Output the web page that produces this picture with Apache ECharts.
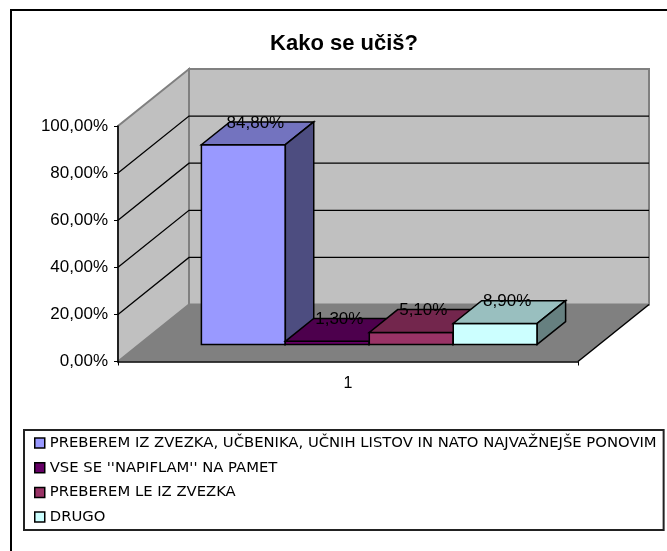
<!DOCTYPE html>
<html lang="sl">
<head>
    <meta charset="UTF-8">
    <title>Kako se učiš?</title>
    <script src="https://cdn.jsdelivr.net/npm/echarts@6/dist/echarts.min.js"></script>
    <style>
        html, body { margin: 0; padding: 0; background: #fff; }
        #chart { width: 667px; height: 551px; }
    </style>
</head>
<body>
<div id="chart"></div>
<script>
    const categories = ['1'];
    const seriesNames = [
        'PREBEREM IZ ZVEZKA, UČBENIKA, UČNIH LISTOV IN NATO NAJVAŽNEJŠE PONOVIM',
        "VSE SE ''NAPIFLAM'' NA PAMET",
        'PREBEREM LE IZ ZVEZKA',
        'DRUGO'
    ];
    const seriesValues = [84.8, 1.3, 5.1, 8.9];
    const valueLabels = ['84,80%', '1,30%', '5,10%', '8,90%'];
    const yTicks = [0, 20, 40, 60, 80, 100];
    const yTickLabels = ['0,00%', '20,00%', '40,00%', '60,00%', '80,00%', '100,00%'];

    const frontColors = ['#9999ff', '#660066', '#993366', '#ccffff'];
    const topColors = ['#7373bf', '#4d004d', '#73264d', '#99bfbf'];
    const sideColors = ['#4d4d80', '#330033', '#4d1a33', '#668080'];

    // depth of the box, as screen offset of the back wall
    const DEPTH_X = 71, DEPTH_Y = 57;

    function project(api, u, v, d) {
        let band = api.size([1, 0])[0];
        let c = api.coord([0, v]);
        return [c[0] - band / 2 + u * band + d * DEPTH_X, c[1] - d * DEPTH_Y];
    }

    function face(points, fill, stroke, width) {
        return {
            type: 'polygon',
            shape: {points: points},
            style: {fill: fill, stroke: stroke, lineWidth: width, lineJoin: 'miter'}
        };
    }

    function renderWalls(params, api) {
        let max = yTicks[yTicks.length - 1];
        let p = (u, v, d) => project(api, u, v, d);
        return {
            type: 'group',
            children: [
                face([p(0, 0, 0), p(1, 0, 0), p(1, 0, 1), p(0, 0, 1)], '#808080', null, 0),
                face([p(0, 0, 1), p(1, 0, 1), p(1, max, 1), p(0, max, 1)], '#c0c0c0', '#808080', 2),
                face([p(0, 0, 0), p(0, 0, 1), p(0, max, 1), p(0, max, 0)], '#c0c0c0', '#808080', 2),
                {type: 'line', shape: {x1: p(1, 0, 0)[0], y1: p(1, 0, 0)[1], x2: p(1, 0, 1)[0], y2: p(1, 0, 1)[1]},
                    style: {stroke: '#000', lineWidth: 1.5}}
            ]
        };
    }

    function renderGridLine(params, api) {
        let v = api.value(1);
        let p = (u, d) => project(api, u, v, d);
        return {
            type: 'group',
            children: [
                {type: 'polyline', shape: {points: [p(0, 0), p(0, 1), p(1, 1)]},
                    style: {fill: null, stroke: '#000', lineWidth: 1.3}}
            ]
        };
    }

    // bars sit 0.135 of the band in from each side, 0.3-0.7 of the depth
    function renderBar(slot) {
        return function (params, api) {
            let v = api.value(1);
            let u0 = 0.135 + slot * 0.1825, u1 = u0 + 0.1825;
            let d0 = 0.3, d1 = 0.7;
            let p = (u, val, d) => project(api, u, val, d);
            let ink = {stroke: '#000', width: 1.5};
            let topBack = p(u0, v, d1);
            let topFrontL = p(u0, v, d0), topFrontR = p(u1, v, d0);
            return {
                type: 'group',
                children: [
                    face([p(u0, 0, d0), p(u1, 0, d0), topFrontR, topFrontL], frontColors[slot], ink.stroke, ink.width),
                    face([topFrontL, topFrontR, p(u1, v, d1), topBack], topColors[slot], ink.stroke, ink.width),
                    face([p(u1, 0, d0), p(u1, 0, d1), p(u1, v, d1), topFrontR], sideColors[slot], ink.stroke, ink.width),
                    {
                        type: 'text',
                        style: {
                            text: valueLabels[slot],
                            x: (topFrontL[0] + topFrontR[0]) / 2 + 12,
                            y: topBack[1] + 1,
                            align: 'center',
                            verticalAlign: 'middle',
                            fontFamily: 'Liberation Sans',
                            fontSize: 17,
                            fill: '#000'
                        }
                    }
                ]
            };
        };
    }

    let chart = echarts.init(document.getElementById('chart'));

    let series = [
        {
            type: 'custom',
            name: 'walls',
            renderItem: renderWalls,
            data: [[0, 0]],
            clip: false,
            silent: true,
            z: 1
        },
        {
            type: 'custom',
            name: 'gridlines',
            renderItem: renderGridLine,
            data: yTicks.slice(1, -1).map(t => [0, t]),
            clip: false,
            silent: true,
            z: 2
        }
    ];
    seriesNames.forEach(function (name, i) {
        series.push({
            type: 'custom',
            name: name,
            renderItem: renderBar(i),
            data: [[0, seriesValues[i]]],
            encode: {x: 0, y: 1},
            itemStyle: {color: frontColors[i]},
            clip: false,
            z: 3 + i
        });
    });

    let option = {
        animation: false,
        backgroundColor: '#fff',
        title: {
            text: 'Kako se učiš?',
            left: 339,
            top: 28,
            textAlign: 'center',
            textStyle: {fontFamily: 'Liberation Sans', fontSize: 22, fontWeight: 'bold', color: '#000'}
        },
        legend: {
            data: seriesNames,
            orient: 'vertical',
            left: 24,
            top: 430,
            padding: [5.5, 7, 5.5, 10],
            itemGap: 9.7,
            itemWidth: 10,
            itemHeight: 10,
            itemStyle: {borderColor: '#000', borderWidth: 1.5},
            icon: 'rect',
            selectedMode: false,
            borderColor: '#222',
            borderWidth: 2,
            textStyle: {fontFamily: 'DejaVu Sans', fontSize: 14.8, color: '#000'}
        },
        grid: {left: 118, top: 126, width: 460, height: 235.5},
        xAxis: {
            type: 'category',
            data: categories,
            z: 10,
            axisLine: {lineStyle: {color: '#000', width: 1.5}},
            axisTick: {show: true, length: 4, lineStyle: {color: '#000'}},
            axisLabel: {color: '#000', fontFamily: 'Liberation Sans', fontSize: 16, margin: 14},
            splitLine: {show: false}
        },
        yAxis: {
            type: 'value',
            min: 0,
            max: 100,
            interval: 20,
            z: 10,
            axisLine: {show: true, lineStyle: {color: '#000', width: 1.5}},
            axisTick: {show: true, length: 4, lineStyle: {color: '#000'}},
            axisLabel: {
                color: '#000',
                fontFamily: 'Liberation Sans',
                fontSize: 17,
                margin: 10,
                formatter: v => yTickLabels[yTicks.indexOf(v)]
            },
            splitLine: {show: false}
        },
        // chart frame: only top and left edges fall inside the picture
        graphic: [{
            type: 'rect',
            silent: true,
            z: -1,
            shape: {x: 11, y: 10, width: 680, height: 580},
            style: {fill: null, stroke: '#000', lineWidth: 2}
        }],
        series: series
    };
    chart.setOption(option);
</script>
</body>
</html>
